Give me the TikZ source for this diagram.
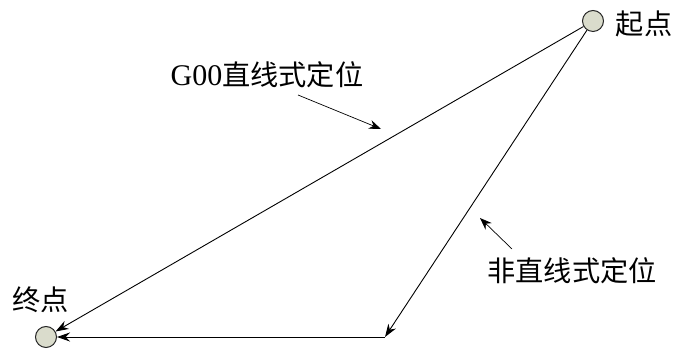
\documentclass[tikz,border=0pt]{standalone}
\usepackage{fontspec}
\setmainfont{Liberation Serif}
\newfontfamily\cjk{Noto Sans CJK SC}[Scale=0.94]
\usetikzlibrary{arrows.meta}
\definecolor{ptfill}{RGB}{218,220,204}
\tikzset{
  pt/.style={circle,draw=black!85,fill=ptfill,line width=1pt,minimum size=21pt,inner sep=0pt},
  lbl/.style={font=\fontsize{30}{32}\selectfont,inner sep=0pt},
  mv/.style={line width=0.9pt,-{Stealth[length=13pt,width=9pt]}},
  ptr/.style={line width=0.7pt,-{Stealth[length=12pt,width=9pt]}}
}
\begin{document}
\begin{tikzpicture}[x=1pt,y=1pt]
\useasboundingbox (0,0) rectangle (675,350);
\node[pt] (S) at (593,329) {};
\node[pt] (E) at (46,13) {};
\node[lbl] (SL) at (644,326) {\cjk 起点};
\node[lbl] (EL) at (41,50) {\cjk 终点};
\coordinate (C) at (385,13);
\draw[mv] (S) -- (E);
\draw[mv] (S) -- (C);
\draw[mv] (C) -- (E);
\node[lbl] (GL) at (267,275) {G00{\cjk 直线式定位}};
\coordinate (g1) at (298,255);
\coordinate (g2) at (381,221);
\draw[ptr] (g1) -- (g2);
\node[lbl] (NL) at (572,79) {\cjk 非直线式定位};
\coordinate (n1) at (512,101);
\coordinate (n2) at (480,132);
\draw[ptr] (n1) -- (n2);
\end{tikzpicture}
\end{document}
